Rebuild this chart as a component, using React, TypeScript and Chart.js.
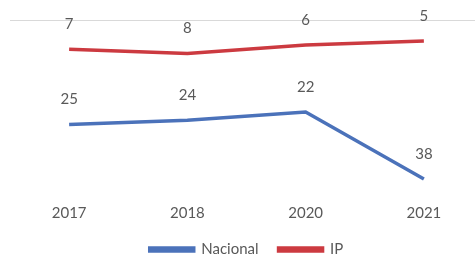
import React, { useEffect, useRef } from "react";
import { Chart, registerables } from "chart.js";

Chart.register(...registerables);

const years = ["2017", "2018", "2020", "2021"];
const nacional = [25, 24, 22, 38];
const ip = [7, 8, 6, 5];

const labelPlugin = {
  id: "dataLabels",
  afterDatasetsDraw(chart: any) {
    const ctx = chart.ctx;
    ctx.save();
    ctx.font = "15px Lato, 'Open Sans', sans-serif";
    ctx.fillStyle = "#595959";
    ctx.textAlign = "center";
    ctx.textBaseline = "middle";
    chart.data.datasets.forEach((ds: any, i: number) => {
      const meta = chart.getDatasetMeta(i);
      meta.data.forEach((pt: any, j: number) => {
        ctx.fillText(String(ds.data[j]), pt.x, pt.y - 25);
      });
    });
    ctx.restore();
  },
};

export default function App() {
  const ref = useRef<HTMLCanvasElement>(null);
  useEffect(() => {
    if (!ref.current) return;
    const chart = new Chart(ref.current, {
      type: "line",
      data: {
        labels: years,
        datasets: [
          {
            label: "Nacional",
            data: nacional,
            borderColor: "#4b72ba",
            backgroundColor: "#4b72ba",
            borderWidth: 3.5,
            pointRadius: 0,
            tension: 0,
          },
          {
            label: "IP",
            data: ip,
            borderColor: "#cc3a40",
            backgroundColor: "#cc3a40",
            borderWidth: 3.5,
            pointRadius: 0,
            tension: 0,
          },
        ],
      },
      options: {
        animation: false,
        responsive: false,
        maintainAspectRatio: false,
        layout: { padding: { top: 20, left: 10, right: 7, bottom: 0 } },
        plugins: {
          tooltip: { enabled: false },
          legend: {
            position: "bottom",
            labels: {
              boxWidth: 44,
              boxHeight: 3,
              padding: 20,
              color: "#595959",
              font: { size: 15, family: "Lato, 'Open Sans', sans-serif" },
            },
          },
        },
        scales: {
          x: {
            offset: true,
            grid: { display: false, drawTicks: false },
            border: { display: false },
            ticks: {
              color: "#595959",
              padding: 0,
              font: { size: 15, family: "Lato, 'Open Sans', sans-serif" },
            },
          },
          y: {
            reverse: true,
            min: 0,
            max: 44,
            border: { display: false },
            grid: {
              drawTicks: false,
              color: (c: any) => (c.tick && c.tick.value === 0 ? "#d9d9d9" : "rgba(0,0,0,0)"),
              lineWidth: 1,
            },
            ticks: { display: false, stepSize: 44 },
          },
        },
      },
      plugins: [labelPlugin],
    });
    return () => chart.destroy();
  }, []);
  return (
    <div
      style={{
        position: "absolute",
        left: 0,
        top: 0,
        width: 475,
        height: 257,
        overflow: "hidden",
        background: "#fff",
      }}
    >
      <canvas ref={ref} width={490} height={267} style={{ display: "block" }} />
    </div>
  );
}
